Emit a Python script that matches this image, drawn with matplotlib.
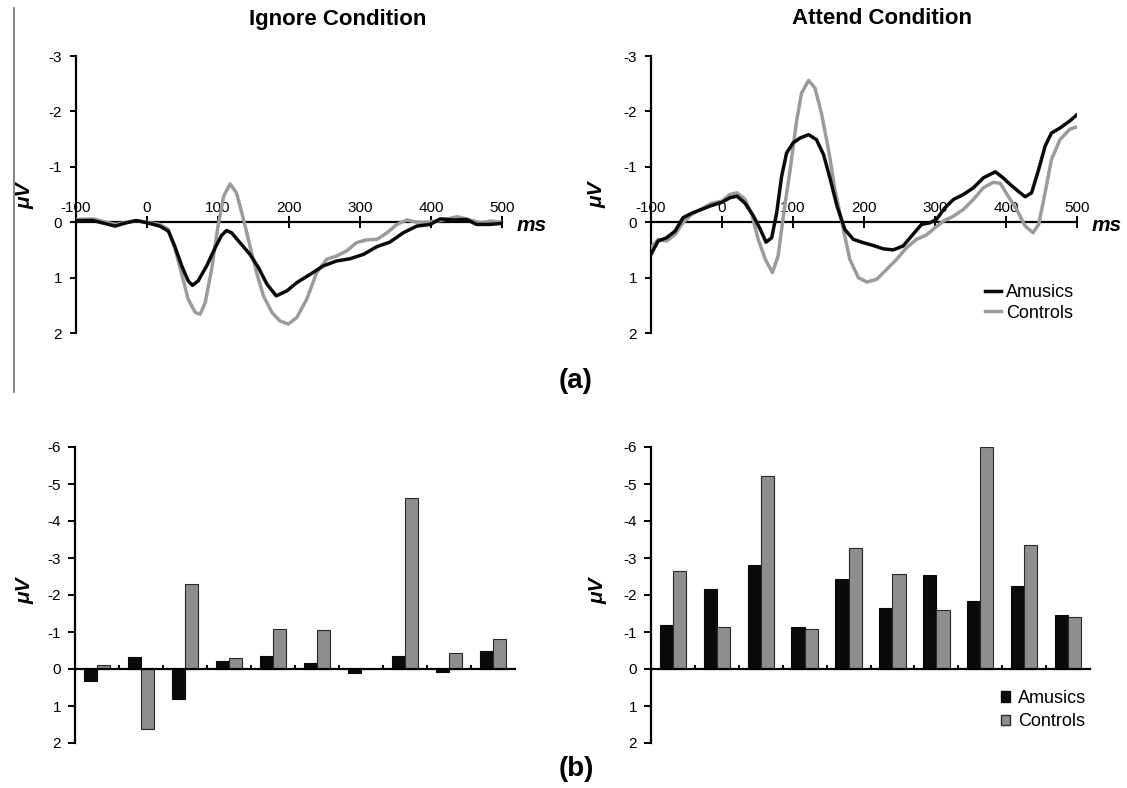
import matplotlib
matplotlib.use('Agg')
import matplotlib.pyplot as plt
from matplotlib.lines import Line2D
from matplotlib.patches import Patch
import numpy as np

plt.rcParams['font.family'] = ['Liberation Sans', 'DejaVu Sans']
plt.rcParams['axes.unicode_minus'] = False

W, H = 1127, 788

BLACK = '#0a0a0a'
GREY_LINE = '#9b9b9b'
GREY_BAR = '#8e8e8e'

# --- ERP waveforms (ms, uV), ignore condition ---
ign_amu_t = [-100, -76, -45, -29, -15, 0, 18, 30, 39, 49, 58, 64, 72, 84, 96, 105, 112, 119,
             131, 145, 157, 169, 182, 197, 211, 230, 248, 267, 286, 305, 324, 342, 361, 380,
             399, 413, 432, 450, 464, 483, 500]
ign_amu_v = [-0.03, -0.03, 0.07, 0.01, -0.03, 0.01, 0.07, 0.16, 0.43, 0.79, 1.06, 1.14, 1.06,
             0.79, 0.46, 0.24, 0.15, 0.19, 0.37, 0.58, 0.82, 1.12, 1.33, 1.24, 1.09, 0.94,
             0.79, 0.70, 0.66, 0.58, 0.44, 0.36, 0.19, 0.07, 0.04, -0.06, -0.04, -0.05, 0.04,
             0.04, 0.02]

ign_con_t = [-100, -76, -45, -15, 18, 30, 39, 49, 58, 68, 75, 82, 91, 100, 108, 117, 126, 136,
             145, 155, 164, 176, 187, 199, 211, 225, 239, 253, 267, 281, 295, 309, 324, 338,
             352, 366, 380, 394, 413, 437, 455, 470, 484, 500]
ign_con_v = [-0.05, -0.06, 0.04, -0.03, 0.04, 0.13, 0.46, 0.94, 1.39, 1.63, 1.66, 1.45, 0.85,
             0.07, -0.47, -0.69, -0.53, -0.05, 0.43, 0.94, 1.33, 1.63, 1.78, 1.84, 1.72, 1.39,
             0.91, 0.67, 0.61, 0.52, 0.37, 0.32, 0.31, 0.19, 0.04, -0.04, 0.0, 0.0, -0.03,
             -0.10, -0.04, 0.01, -0.02, 0.0]

# --- ERP waveforms, attend condition ---
att_amu_t = [-100, -90, -78, -66, -55, -43, -29, -15, 0, 11, 21, 32, 44, 54, 62, 70, 77, 84,
             91, 100, 110, 122, 133, 143, 152, 162, 173, 185, 199, 213, 227, 241, 255, 269,
             281, 293, 302, 314, 326, 340, 354, 368, 385, 396, 406, 417, 427, 436, 446, 455,
             464, 476, 490, 500]
att_amu_v = [0.58, 0.34, 0.28, 0.16, -0.08, -0.16, -0.23, -0.30, -0.36, -0.44, -0.47, -0.35,
             -0.12, 0.13, 0.36, 0.28, -0.17, -0.83, -1.25, -1.43, -1.52, -1.58, -1.49, -1.22,
             -0.80, -0.29, 0.13, 0.31, 0.37, 0.42, 0.48, 0.50, 0.43, 0.22, 0.04, 0.01, -0.05,
             -0.26, -0.41, -0.50, -0.62, -0.80, -0.91, -0.80, -0.68, -0.56, -0.46, -0.53, -0.95,
             -1.37, -1.61, -1.70, -1.83, -1.94]

att_con_t = [-100, -90, -78, -66, -55, -43, -29, -15, 0, 11, 21, 32, 42, 51, 61, 71, 79, 87,
             96, 105, 112, 122, 131, 140, 150, 159, 169, 180, 192, 204, 218, 232, 246, 260,
             274, 288, 300, 312, 326, 340, 354, 368, 382, 392, 403, 415, 427, 438, 446, 455,
             464, 476, 490, 500]
att_con_v = [0.46, 0.31, 0.34, 0.22, 0.01, -0.14, -0.24, -0.34, -0.38, -0.50, -0.53, -0.42,
             -0.14, 0.31, 0.67, 0.91, 0.61, -0.17, -0.95, -1.82, -2.33, -2.56, -2.42, -1.97,
             -1.31, -0.59, 0.01, 0.67, 1.00, 1.08, 1.03, 0.85, 0.67, 0.46, 0.31, 0.23, 0.10,
             -0.02, -0.11, -0.23, -0.41, -0.62, -0.72, -0.70, -0.47, -0.23, 0.07, 0.19, 0.04,
             -0.53, -1.13, -1.49, -1.68, -1.72]

# --- mean amplitudes per window (uV) ---
n_windows = 10
ign_amusics = [0.33, -0.32, 0.80, -0.21, -0.34, -0.15, 0.10, -0.34, 0.08, -0.48]
ign_controls = [-0.10, 1.62, -2.30, -0.29, -1.08, -1.05, 0.0, -4.62, -0.42, -0.80]
att_amusics = [-1.20, -2.15, -2.80, -1.14, -2.43, -1.64, -2.54, -1.83, -2.24, -1.45]
att_controls = [-2.66, -1.14, -5.22, -1.07, -3.27, -2.57, -1.59, -6.00, -3.36, -1.40]

ms_ticks = [-100, 0, 100, 200, 300, 400, 500]


def fx(px):
    return px / W


def fy(py):
    return 1 - py / H


def add_ax(x0, x1, y0, y1):
    # pixel box -> figure axes
    return fig.add_axes([fx(x0), fy(y1), fx(x1 - x0), (y1 - y0) / H])


def style_common(ax):
    for s in ('top', 'right'):
        ax.spines[s].set_visible(False)
    ax.spines['left'].set_linewidth(1.6)
    ax.spines['bottom'].set_linewidth(1.6)
    ax.spines['bottom'].set_position(('data', 0))
    ax.patch.set_alpha(0)


def wave_axes(ax):
    style_common(ax)
    ax.set_xlim(-100, 500)
    ax.set_ylim(2, -3)
    ax.set_yticks([-3, -2, -1, 0, 1, 2])
    ax.set_xticks(ms_ticks)
    ax.tick_params(axis='y', direction='out', length=4, width=1.4, pad=6, labelsize=11)
    ax.tick_params(axis='x', direction='inout', length=9, width=1.4, pad=-20, labelsize=11)
    ax.text(1.035, 0.06, 'ms', transform=ax.get_yaxis_transform(), fontsize=15,
            fontweight='bold', fontstyle='italic', va='center', ha='left')


def bar_axes(ax, amu, con):
    style_common(ax)
    x = np.arange(n_windows)
    w = 0.3
    ax.bar(x - w / 2, amu, width=w, color=BLACK, edgecolor=BLACK, linewidth=0.8,
           label='Amusics', zorder=2)
    ax.bar(x + w / 2, con, width=w, color=GREY_BAR, edgecolor='#2a2a2a', linewidth=0.8,
           label='Controls', zorder=2)
    ax.set_xlim(-0.5, n_windows - 0.5)
    ax.set_ylim(2, -6)
    ax.set_yticks(range(-6, 3))
    ax.set_xticks(x[:-1] + 0.5)
    ax.set_xticklabels([])
    ax.tick_params(axis='y', direction='out', length=5, width=1.4, pad=5, labelsize=11)
    ax.tick_params(axis='x', direction='in', length=3, width=1.4)


fig = plt.figure(figsize=(W / 100, H / 100), dpi=100)

ax1 = add_ax(76, 502, 56, 333)
ax2 = add_ax(651, 1077, 56, 333)
ax3 = add_ax(75, 515, 447, 743)
ax4 = add_ax(651, 1090, 447, 743)

for ax, (ta, va, tc, vc) in zip((ax1, ax2), ((ign_amu_t, ign_amu_v, ign_con_t, ign_con_v),
                                              (att_amu_t, att_amu_v, att_con_t, att_con_v))):
    wave_axes(ax)
    ax.plot(tc, vc, color=GREY_LINE, lw=2.5, solid_joinstyle='round', label='Controls', zorder=3)
    ax.plot(ta, va, color=BLACK, lw=2.5, solid_joinstyle='round', label='Amusics', zorder=3)

bar_axes(ax3, ign_amusics, ign_controls)
bar_axes(ax4, att_amusics, att_controls)

# legends
h_line = [Line2D([], [], color=BLACK, lw=2.5), Line2D([], [], color=GREY_LINE, lw=2.5)]
ax2.legend(h_line, ['Amusics', 'Controls'], loc='center left',
           bbox_to_anchor=(fx(985), fy(303)), bbox_transform=fig.transFigure,
           frameon=False, fontsize=13, handlelength=0.9, handletextpad=0.25,
           borderpad=0, borderaxespad=0, labelspacing=0.2)

h_box = [Patch(facecolor=BLACK, edgecolor=BLACK), Patch(facecolor=GREY_BAR, edgecolor='#2a2a2a')]
ax4.legend(h_box, ['Amusics', 'Controls'], loc='center left',
           bbox_to_anchor=(fx(1001), fy(710)), bbox_transform=fig.transFigure,
           frameon=False, fontsize=13, handlelength=0.5, handleheight=0.5,
           handletextpad=0.45, borderpad=0, borderaxespad=0, labelspacing=0.35)

# titles and labels
fig.text(fx(338), fy(19), 'Ignore Condition', fontsize=16, fontweight='bold', ha='center', va='center')
fig.text(fx(882), fy(19), 'Attend Condition', fontsize=16, fontweight='bold', ha='center', va='center')

for x, y in ((25, 196), (597, 195), (25, 591), (598, 591)):
    fig.text(fx(x), fy(y), 'μV', fontsize=15, fontweight='bold', fontstyle='italic',
             rotation=90, ha='center', va='center')

fig.text(fx(576), fy(381), '(a)', fontsize=20, fontweight='bold', ha='center', va='center')
fig.text(fx(576), fy(769), '(b)', fontsize=20, fontweight='bold', ha='center', va='center')

# thin divider at the left edge of the upper row
fig.add_artist(Line2D([fx(14), fx(14)], [fy(8), fy(392)], color='#707070', lw=1.2))

fig.savefig('out.png', dpi=100)
